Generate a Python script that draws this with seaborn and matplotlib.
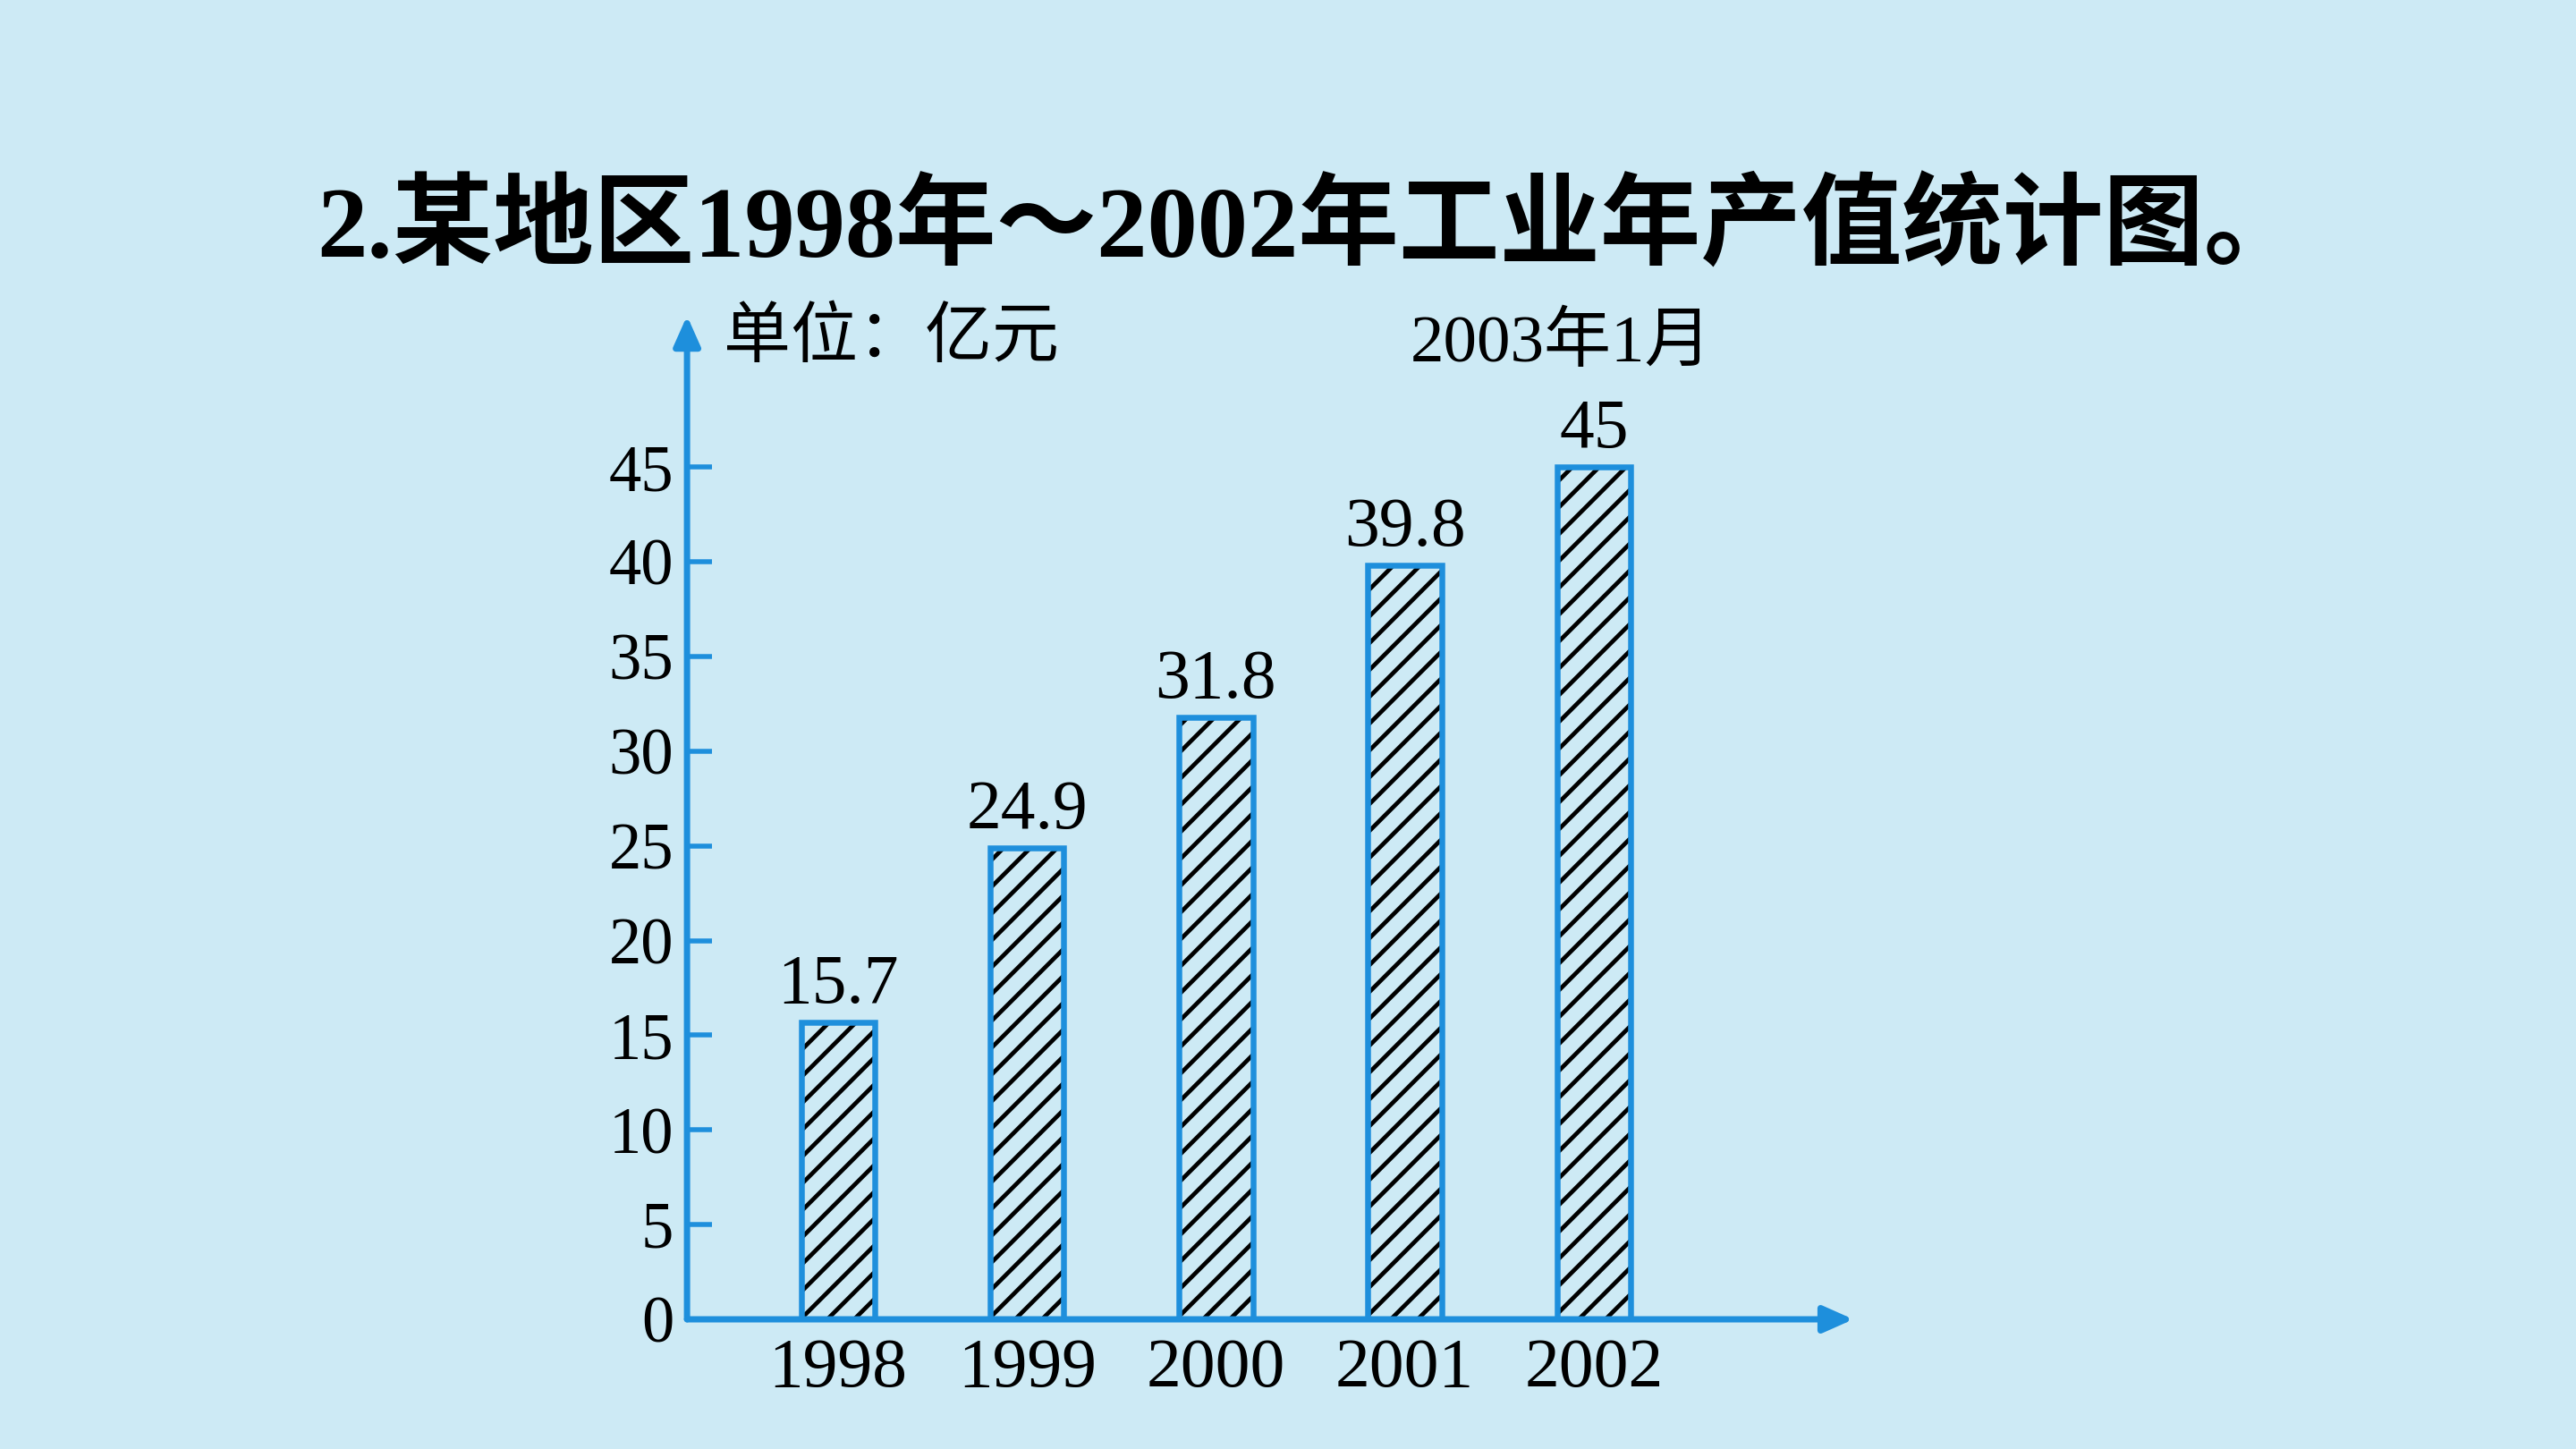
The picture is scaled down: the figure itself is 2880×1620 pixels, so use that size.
import matplotlib
matplotlib.use("Agg")
import matplotlib.pyplot as plt
import seaborn as sns

# data
years = ["1998", "1999", "2000", "2001", "2002"]
values = [15.7, 24.9, 31.8, 39.8, 45]
yticks = [0, 5, 10, 15, 20, 25, 30, 35, 40, 45]

bg = "#cdeaf5"
blue = "#1e8fdc"
fonts = ["Liberation Serif", "Noto Sans CJK SC", "DejaVu Sans"]

sns.set_style("white")
plt.rcParams["font.family"] = fonts
plt.rcParams["text.color"] = "black"
plt.rcParams["xtick.color"] = "black"
plt.rcParams["ytick.color"] = "black"
plt.rcParams["hatch.linewidth"] = 1.9

fig = plt.figure(figsize=(16, 9), dpi=180, facecolor=bg)
ax = fig.add_axes([0.2667, 0.0895, 0.4528, 0.6926])
ax.set_facecolor("none")

# hatch layer, then blue outline on top
sns.barplot(x=years, y=values, ax=ax, fill=False, color="black",
            hatch="//", linewidth=0.3, width=0.39, errorbar=None)
sns.barplot(x=years, y=values, ax=ax, fill=False, color=blue,
            linewidth=2.6, width=0.39, errorbar=None)
ax.bar_label(ax.containers[-1], fmt="%g", padding=2, fontsize=31)

ax.set_xlim(-0.8, 5.375)
ax.set_ylim(0, 53)
ax.set_yticks(yticks)
for s in ax.spines.values():
    s.set_visible(False)

ax.tick_params(axis="y", direction="in", length=11, width=2.2, color=blue,
               pad=6, labelsize=29, left=True)
ax.tick_params(axis="x", length=0, pad=8, labelsize=31)
ax.set_xlabel("")
ax.set_ylabel("")

arrow = dict(arrowstyle="-|>,head_length=0.45,head_width=0.2", lw=2.8,
             color=blue, mutation_scale=25, shrinkA=0, shrinkB=0)
ax.annotate("", xy=(0, 1), xytext=(0, 0), xycoords="axes fraction",
            arrowprops=arrow, annotation_clip=False)
ax.annotate("", xy=(1, 0), xytext=(0, 0), xycoords="axes fraction",
            arrowprops=arrow, annotation_clip=False)

fig.text(0.509, 0.841, "2.某地区1998年～2002年工业年产值统计图。",
         ha="center", va="center", fontsize=45, fontweight="bold")
fig.text(0.281, 0.7654, "单位：亿元", ha="left", va="center", fontsize=30,
         fontweight="light")
fig.text(0.606, 0.762, "2003年1月", ha="center", va="center", fontsize=30,
         fontweight="light")

fig.savefig("out.png", dpi=180, facecolor=bg)
